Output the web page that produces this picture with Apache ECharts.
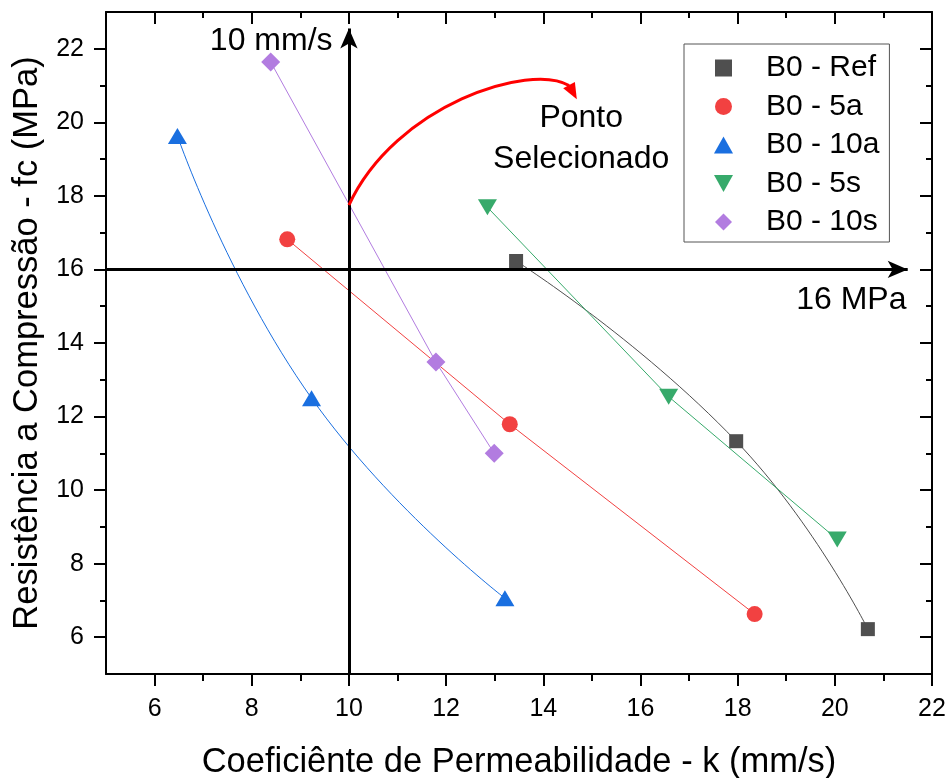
<!DOCTYPE html>
<html>
<head>
<meta charset="utf-8">
<script src="https://cdn.jsdelivr.net/npm/echarts@6/dist/echarts.min.js"></script>
<style>
html, body { margin: 0; padding: 0; background: #fff; }
#chart { width: 949px; height: 778px; }
</style>
</head>
<body>
<div id="chart"></div>
<script>
// Axis ticks
const xMajorTicks = [6, 8, 10, 12, 14, 16, 18, 20, 22];
const xMinorTicks = [7, 9, 11, 13, 15, 17, 19, 21];
const yMajorTicks = [6, 8, 10, 12, 14, 16, 18, 20, 22];
const yMinorTicks = [7, 9, 11, 13, 15, 17, 19, 21];

// Series: permeability k (mm/s) and compressive strength fc (MPa)
const seriesNames = ['B0 - Ref', 'B0 - 5a', 'B0 - 10a', 'B0 - 5s', 'B0 - 10s'];
const refK  = [13.44, 17.97, 20.68];
const refFc = [16.23, 11.33, 6.22];
const a5K   = [8.73, 13.31, 18.35];
const a5Fc  = [16.82, 11.79, 6.63];
const a10K  = [6.47, 9.23, 13.21];
const a10Fc = [19.63, 12.50, 7.06];
const s5K   = [12.85, 16.58, 20.05];
const s5Fc  = [17.69, 12.54, 8.66];
const s10K  = [8.39, 11.79, 12.99];
const s10Fc = [21.64, 13.48, 11.00];

// Reference limits
const kLimit = 10;
const fcLimit = 16;

const FONT = '"Liberation Sans", Arial, sans-serif';
const zip = (xs, ys) => xs.map((x, i) => [x, ys[i]]);

const chart = echarts.init(document.getElementById('chart'), null, { renderer: 'canvas' });

function xAxisDef(position, ticks, len, inside, showLine, showLabel, extra) {
  return Object.assign({
    type: 'value', position: position, min: 5, max: 22,
    axisLine: { show: showLine, onZero: false, lineStyle: { color: '#000', width: 2 } },
    axisTick: { show: true, customValues: ticks, inside: inside, length: len, lineStyle: { color: '#000', width: 2 } },
    axisLabel: showLabel ? { show: true, customValues: ticks, fontSize: 25, color: '#000', fontFamily: FONT, margin: 23 } : { show: false },
    splitLine: { show: false }
  }, extra || {});
}
function yAxisDef(position, ticks, len, inside, showLine, showLabel, extra) {
  return Object.assign({
    type: 'value', position: position, min: 5, max: 23,
    axisLine: { show: showLine, onZero: false, lineStyle: { color: '#000', width: 2 } },
    axisTick: { show: true, customValues: ticks, inside: inside, length: len, lineStyle: { color: '#000', width: 2 } },
    axisLabel: showLabel ? { show: true, customValues: ticks, fontSize: 25, color: '#000', fontFamily: FONT, margin: 22 } : { show: false },
    splitLine: { show: false }
  }, extra || {});
}

function lineSeries(name, k, fc, color, symbol, size, smooth) {
  return {
    name: name, type: 'line', data: zip(k, fc), smooth: smooth,
    symbol: symbol, symbolSize: size, showSymbol: true,
    lineStyle: { color: color, width: 1 },
    itemStyle: { color: color },
    emphasis: { disabled: true },
    z: 3
  };
}

const INVERTED = 'path://M0,0L19,0L9.5,17Z';
const SQUARE = 'path://M0,0L10,0L10,10L0,10Z';
const DIAMOND = 'path://M5,0L10,5L5,10L0,5Z';

chart.setOption({
  animation: false,
  backgroundColor: '#fff',
  grid: { left: 106, right: 17, top: 12, bottom: 104, containLabel: false, outerBoundsMode: 'none' },
  xAxis: [
    xAxisDef('bottom', xMajorTicks, 12, false, true, true, {
      name: 'Coeficiênte de Permeabilidade - k (mm/s)', nameLocation: 'middle', nameGap: 71,
      nameTextStyle: { fontSize: 34.5, color: '#000', fontFamily: FONT }
    }),
    xAxisDef('bottom', xMinorTicks, 7, false, false, false),
    xAxisDef('top', xMajorTicks, 12, true, true, false),
    xAxisDef('top', xMinorTicks, 6, true, false, false)
  ],
  yAxis: [
    yAxisDef('left', yMajorTicks, 12, false, true, true, {
      name: 'Resistência a Compressão - fc (MPa)', nameLocation: 'middle', nameGap: 60,
      nameTextStyle: { fontSize: 34.5, color: '#000', fontFamily: FONT }
    }),
    yAxisDef('left', yMinorTicks, 6, false, false, false),
    yAxisDef('right', yMajorTicks, 12, true, true, false),
    yAxisDef('right', yMinorTicks, 6, true, false, false)
  ],
  legend: {
    orient: 'vertical', left: 684, top: 44,
    padding: [9, 10, 5, 30],
    itemWidth: 19, itemHeight: 17, itemGap: 8.5,
    borderColor: '#555', borderWidth: 1, borderRadius: 0,
    backgroundColor: '#fff',
    textStyle: { fontSize: 30, lineHeight: 30, color: '#000', fontFamily: FONT, padding: [0, 0, 0, 28] },
    selectedMode: false,
    data: [
      { name: seriesNames[0], icon: SQUARE, itemStyle: { borderWidth: 0 } },
      { name: seriesNames[1], icon: 'circle' },
      { name: seriesNames[2], icon: 'triangle' },
      { name: seriesNames[3], icon: INVERTED },
      { name: seriesNames[4], icon: DIAMOND }
    ]
  },
  series: [
    lineSeries(seriesNames[0], refK, refFc, '#4f4f4f', 'rect', 14, true),
    lineSeries(seriesNames[1], a5K, a5Fc, '#f24141', 'circle', 16, false),
    lineSeries(seriesNames[2], a10K, a10Fc, '#1a6fe0', 'triangle', [19, 16], true),
    lineSeries(seriesNames[3], s5K, s5Fc, '#37aa6b', INVERTED, [19, 16], false),
    lineSeries(seriesNames[4], s10K, s10Fc, '#b27ce0', 'diamond', [19, 19], false),
    {
      name: 'limites', type: 'line', data: [], z: 5, silent: true,
      markLine: {
        silent: true, animation: false,
        symbol: ['none', 'arrow'], symbolSize: [13, 20],
        lineStyle: { color: '#000', width: 3, type: 'solid' },
        label: { show: false },
        emphasis: { disabled: true },
        data: [
          [{ coord: [kLimit, 5] }, { coord: [kLimit, 22.55] }],
          [{ coord: [5, fcLimit] }, { coord: [21.5, fcLimit] }]
        ]
      }
    }
  ]
});

// Annotations anchored in data coordinates
const px = (p) => chart.convertToPixel({ xAxisIndex: 0, yAxisIndex: 0 }, p);
const curve = [[10, 17.75], [10.95, 20.47], [13.73, 21.64], [14.53, 21.0]];
const head = [[14.69, 20.63], [14.41, 20.93], [14.65, 21.10]];
const c = curve.map(px);
const h = head.map(px);
const textAt = (label, pos) => {
  const p = px(pos);
  return {
    type: 'text', x: p[0], y: p[1], z: 10,
    style: { text: label, fill: '#000', font: '32px ' + FONT, align: 'center', verticalAlign: 'middle' }
  };
};

chart.setOption({
  graphic: [
    {
      type: 'bezierCurve', z: 10,
      shape: { x1: c[0][0], y1: c[0][1], cpx1: c[1][0], cpy1: c[1][1], cpx2: c[2][0], cpy2: c[2][1], x2: c[3][0], y2: c[3][1] },
      style: { stroke: '#ff0000', lineWidth: 3, fill: null }
    },
    {
      type: 'polygon', z: 10,
      shape: { points: h },
      style: { fill: '#ff0000' }
    },
    textAt('10 mm/s', [8.40, 22.21]),
    textAt('Ponto', [14.78, 20.11]),
    textAt('Selecionado', [14.78, 18.99]),
    textAt('16 MPa', [20.34, 15.16])
  ]
});
</script>
</body>
</html>
